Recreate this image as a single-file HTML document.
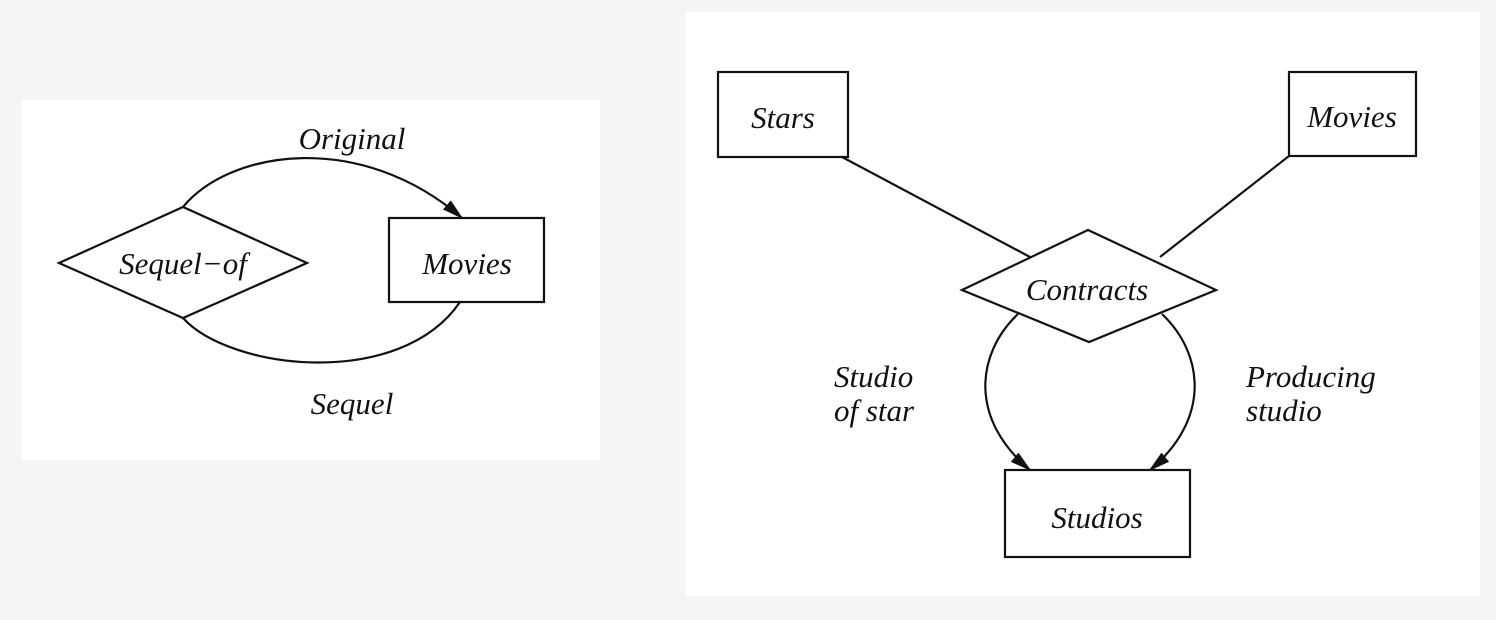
<!DOCTYPE html>
<html><head><style>
html,body{margin:0;padding:0;background:#f5f5f5;}
svg{display:block}
text{font-family:"Liberation Serif",serif;font-style:italic;font-size:31px;fill:#111}
</style></head><body>
<svg width="1496" height="620" viewBox="0 0 1496 620">
<defs>
<marker id="a" markerWidth="22" markerHeight="12" refX="20" refY="6" orient="auto" markerUnits="userSpaceOnUse">
<path d="M0,0 L22,6 L0,12 Z" fill="#111"/></marker>
</defs>
<rect x="22" y="100" width="578" height="360" fill="#fff"/>
<rect x="686" y="12" width="794" height="584" fill="#fff"/>
<g fill="none" stroke="#111" stroke-width="2.2">
<polygon points="59,263 183,207 307,263 183,318"/>
<rect x="389" y="218" width="155" height="84"/>
<path d="M183,207 C230,150 360,130 462,218" marker-end="url(#a)"/>
<path d="M183,318 C230,370 400,390 460,302"/>
<rect x="718" y="72" width="130" height="85"/>
<rect x="1289" y="72" width="127" height="84"/>
<polygon points="962,290 1088,230 1216,290 1089,342"/>
<line x1="842" y1="157" x2="1030" y2="257"/>
<line x1="1289" y1="156" x2="1160" y2="257"/>
<rect x="1005" y="470" width="185" height="87"/>
<path d="M1018,314 C975,355 970,420 1030,470" marker-end="url(#a)"/>
<path d="M1162,314 C1205,355 1210,420 1150,470" marker-end="url(#a)"/>
</g>
<text x="352" y="149" text-anchor="middle">Original</text>
<text x="183" y="274" text-anchor="middle">Sequel−of</text>
<text x="467" y="274" text-anchor="middle">Movies</text>
<text x="352" y="414" text-anchor="middle">Sequel</text>
<text x="783" y="128" text-anchor="middle">Stars</text>
<text x="1352" y="127" text-anchor="middle">Movies</text>
<text x="1087" y="300" text-anchor="middle">Contracts</text>
<text x="1097" y="528" text-anchor="middle">Studios</text>
<text x="834" y="387">Studio</text>
<text x="834" y="421">of star</text>
<text x="1246" y="387">Producing</text>
<text x="1246" y="421">studio</text>
</svg>
</body></html>
